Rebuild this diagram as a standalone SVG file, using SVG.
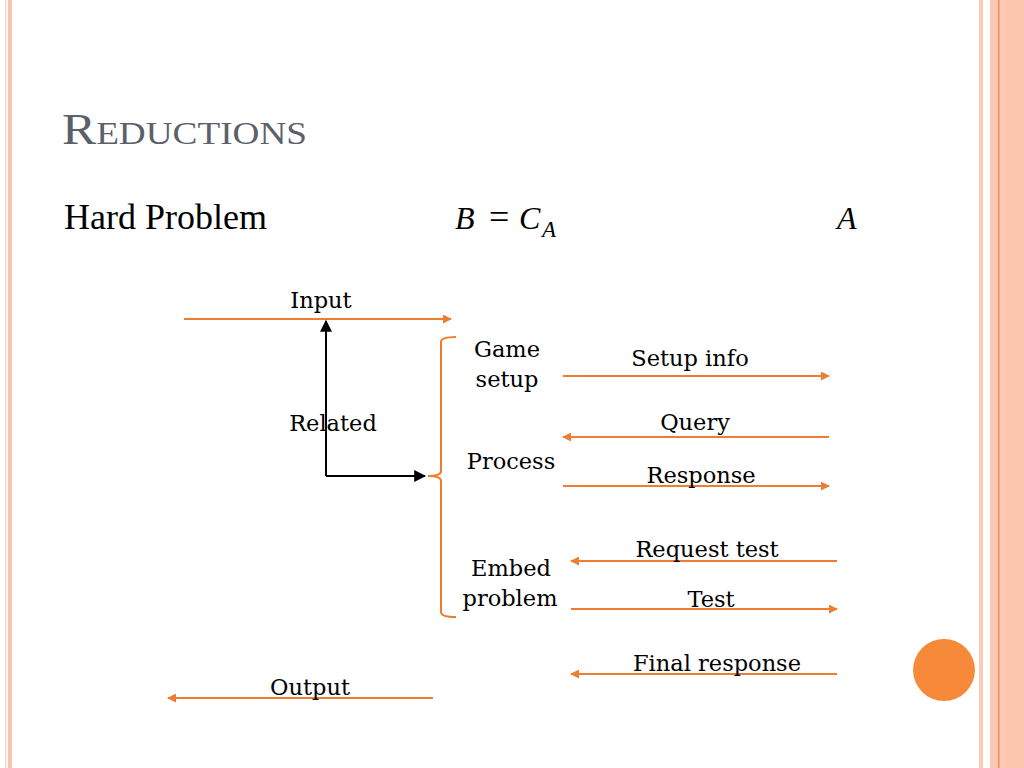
<svg xmlns="http://www.w3.org/2000/svg" width="1024" height="768" viewBox="0 0 1024 768">
<defs>
<marker id="oa" viewBox="0 0 10 10" refX="9" refY="5" markerWidth="9" markerHeight="9" markerUnits="userSpaceOnUse" orient="auto"><path d="M0,0 L10,5 L0,10 z" fill="#ED7D31"/></marker>
<marker id="ba" viewBox="0 0 10 10" refX="9" refY="5" markerWidth="12" markerHeight="12" markerUnits="userSpaceOnUse" orient="auto"><path d="M0,0 L10,5 L0,10 z" fill="#000"/></marker>
<style>
.lbl{font-family:"DejaVu Serif","Liberation Serif",serif;font-size:22.5px;fill:#000;text-anchor:middle}
.o{stroke:#ED7D31;stroke-width:2;fill:none;marker-end:url(#oa)}
.math{font-family:"Liberation Serif",serif;font-style:italic;font-size:32px;fill:#000}
.sub{font-size:23px}
.eq{font-style:normal;font-size:36px}
</style>
</defs>
<rect width="1024" height="768" fill="#fff"/>
<!-- page borders -->
<rect x="5" y="0" width="1.5" height="768" fill="#F8D9C8"/>
<rect x="8" y="0" width="4" height="768" fill="#FBC4AE"/>
<rect x="979" y="0" width="4" height="768" fill="#FBCBB8"/>
<rect x="990" y="0" width="34" height="768" fill="#FBC9B3"/>
<rect x="1007" y="0" width="17" height="768" fill="#FCC5AD"/>
<rect x="998" y="0" width="1.5" height="768" fill="#F0915F"/>
<circle cx="944" cy="670" r="31" fill="#F78A3A"/>
<!-- title -->
<text x="62" y="144" font-family="Liberation Serif,serif" fill="#5B6069" textLength="245" lengthAdjust="spacingAndGlyphs"><tspan font-size="44">R</tspan><tspan font-size="32">EDUCTIONS</tspan></text>
<g id="heads">
<text x="64" y="229" font-family="Liberation Serif,serif" font-size="36" fill="#000">Hard Problem</text>
<text class="math" x="455" y="229">B</text>
<text class="math eq" x="489" y="229">=</text>
<text class="math" x="519" y="229">C</text>
<text class="math sub" x="542" y="237">A</text>
<text class="math" x="837" y="229">A</text>
</g>
<g id="connectors">
<line class="o" x1="184" y1="319" x2="451" y2="319"/>
<line class="o" x1="563" y1="376" x2="829" y2="376"/>
<line class="o" x1="829" y1="437" x2="563" y2="437"/>
<line class="o" x1="563" y1="486" x2="829" y2="486"/>
<line class="o" x1="837" y1="561" x2="571" y2="561"/>
<line class="o" x1="571" y1="609" x2="837" y2="609"/>
<line class="o" x1="837" y1="674" x2="571" y2="674"/>
<line class="o" x1="433" y1="698" x2="168" y2="698"/>
<path d="M456,337 Q441,337 441,342 L441,471 Q441,476 428,476 Q441,476 441,481 L441,612 Q441,617 456,617" stroke="#ED7D31" stroke-width="2" fill="none"/>
<path d="M326,476 L326,321" stroke="#000" stroke-width="2" fill="none" marker-end="url(#ba)"/>
<path d="M326,476 L425,476" stroke="#000" stroke-width="2" fill="none" marker-end="url(#ba)"/>
</g>
<g id="n-input"><text class="lbl" x="321" y="308">Input</text></g>
<g id="n-game"><text class="lbl" x="507" y="357">Game</text><text class="lbl" x="507" y="387">setup</text></g>
<g id="n-setupinfo"><text class="lbl" x="690" y="366">Setup info</text></g>
<g id="n-related"><text class="lbl" x="333" y="431">Related</text></g>
<g id="n-query"><text class="lbl" x="695" y="430">Query</text></g>
<g id="n-process"><text class="lbl" x="511" y="469">Process</text></g>
<g id="n-response"><text class="lbl" x="701" y="483">Response</text></g>
<g id="n-request"><text class="lbl" x="707" y="557">Request test</text></g>
<g id="n-embed"><text class="lbl" x="511" y="576">Embed</text><text class="lbl" x="510" y="606">problem</text></g>
<g id="n-test"><text class="lbl" x="711" y="607">Test</text></g>
<g id="n-final"><text class="lbl" x="717" y="671">Final response</text></g>
<g id="n-output"><text class="lbl" x="310" y="695">Output</text></g>
</svg>
